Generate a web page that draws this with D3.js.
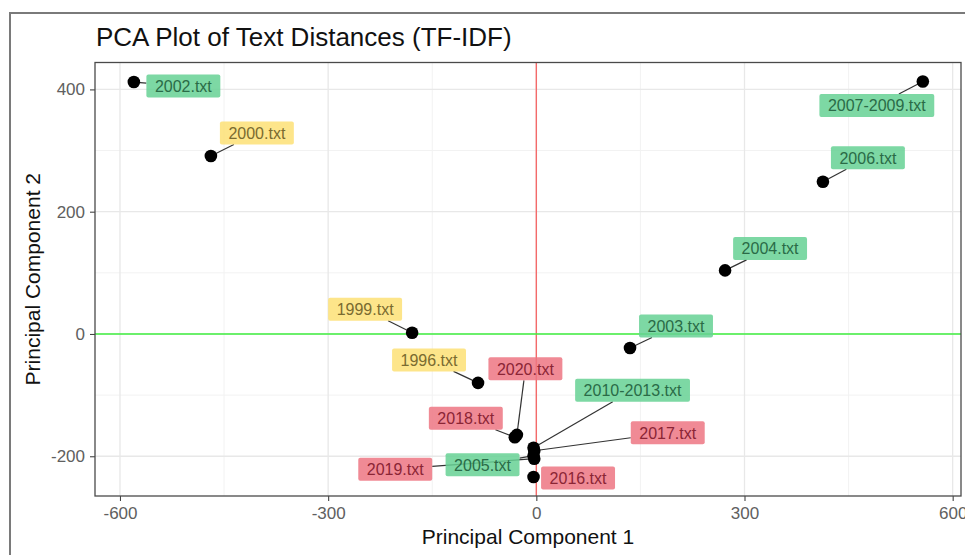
<!DOCTYPE html>
<html>
<head>
<meta charset="utf-8">
<script src="https://cdn.jsdelivr.net/npm/d3@7"></script>
<style>
  html, body { margin: 0; padding: 0; background: #fff; }
  svg { display: block; font-family: "Liberation Sans", Arial, sans-serif; }
</style>
</head>
<body>
<svg id="chart" width="965" height="555"></svg>
<script>
// ---- data ----
const files = ["1996.txt","1999.txt","2000.txt","2002.txt","2003.txt","2004.txt","2005.txt","2006.txt",
  "2007-2009.txt","2010-2013.txt","2016.txt","2017.txt","2018.txt","2019.txt","2020.txt"];
const pc1 = [-84, -179, -469, -580, 135, 272, -4, 413, 557, -4, -4, -3, -31, -3, -28];
const pc2 = [-80, 2, 291, 412, -23, 104, -199, 249, 413, -186, -234, -191, -169, -204, -165];
const groups = ["early","early","early","mid","mid","mid","mid","mid","mid","mid","late","late","late","late","late"];
const xTicks = [-600, -300, 0, 300, 600];
const yTicks = [-200, 0, 200, 400];
const xMinor = [-450, -150, 150, 450];
const yMinor = [-100, 100, 300];

// ---- layout (label offsets in px from point, repel result) ----
const labelOffsets = [[-49,-23],[-47,-23.5],[46,-23],[49.5,4],[46,-22],[45,-22],[-51,9],[45,-24],
  [-46,24],[99,-57.5],[44.5,1],[133.5,-18],[-49,-19],[-139,10.5],[8.5,-66]];

const fillCol = {early:"#fde075", mid:"#66d194", late:"#ed7583"};
const textCol = {early:"#7a6b30", mid:"#2a6b47", late:"#8b2535"};

const svg = d3.select("#chart");
const L = 95, R = 961, T = 62.5, B = 496;
const x = d3.scaleLinear().domain([-636, 612]).range([L, R]);
const y = d3.scaleLinear().domain([-265, 444]).range([B, T]);

// outer frame
svg.append("rect").attr("x",10).attr("y",13).attr("width",1000).attr("height",600)
  .attr("fill","none").attr("stroke","#7a7a7a").attr("stroke-width",2);

// title
svg.append("text").attr("x",96).attr("y",46).attr("font-size",26).attr("fill","#111")
  .text("PCA Plot of Text Distances (TF-IDF)");

const g = svg.append("g");
// minor grid
g.selectAll(".mx").data(xMinor).enter().append("line")
  .attr("x1",d=>x(d)).attr("x2",d=>x(d)).attr("y1",T).attr("y2",B)
  .attr("stroke","#f2f2f2").attr("stroke-width",1);
g.selectAll(".my").data(yMinor).enter().append("line")
  .attr("y1",d=>y(d)).attr("y2",d=>y(d)).attr("x1",L).attr("x2",R)
  .attr("stroke","#f2f2f2").attr("stroke-width",1);
// major grid
g.selectAll(".gx").data(xTicks).enter().append("line")
  .attr("x1",d=>x(d)).attr("x2",d=>x(d)).attr("y1",T).attr("y2",B)
  .attr("stroke","#e8e8e8").attr("stroke-width",1.3);
g.selectAll(".gy").data(yTicks).enter().append("line")
  .attr("y1",d=>y(d)).attr("y2",d=>y(d)).attr("x1",L).attr("x2",R)
  .attr("stroke","#e8e8e8").attr("stroke-width",1.3);

// reference lines
g.append("line").attr("x1",x(0)).attr("x2",x(0)).attr("y1",T).attr("y2",B)
  .attr("stroke","#f46a6a").attr("stroke-width",1.4);
g.append("line").attr("x1",L).attr("x2",R).attr("y1",y(0)).attr("y2",y(0))
  .attr("stroke","#3fef3f").attr("stroke-width",1.4);

// axes
const fmt = d => String(d);
const xAxis = svg.append("g").attr("transform",`translate(0,${B})`)
  .call(d3.axisBottom(x).tickValues(xTicks).tickSize(5).tickPadding(6).tickFormat(fmt));
const yAxis = svg.append("g").attr("transform",`translate(${L},0)`)
  .call(d3.axisLeft(y).tickValues(yTicks).tickSize(5).tickPadding(5).tickFormat(fmt));
[xAxis,yAxis].forEach(a=>{
  a.select(".domain").remove();
  a.selectAll(".tick line").attr("stroke","#444").attr("stroke-width",1.1);
  a.selectAll(".tick text").attr("fill","#606060").attr("font-size",17)
    .attr("font-family","'Liberation Sans', Arial, sans-serif");
});

// axis titles
svg.append("text").attr("x",(L+R)/2).attr("y",544).attr("text-anchor","middle")
  .attr("font-size",21).attr("fill","#111").text("Principal Component 1");
svg.append("text").attr("transform",`translate(40,${(T+B)/2}) rotate(-90)`).attr("text-anchor","middle")
  .attr("font-size",21).attr("fill","#111").text("Principal Component 2");

// build label geometry
const items = files.map((f,i)=>({name:f, px:x(pc1[i]), py:y(pc2[i]), grp:groups[i],
  cx:x(pc1[i])+labelOffsets[i][0], cy:y(pc2[i])+labelOffsets[i][1]}));

const meas = svg.append("text").attr("font-size",16).attr("visibility","hidden");
items.forEach(d=>{
  meas.text(d.name);
  const w = meas.node().getComputedTextLength();
  d.w = w + 17; d.h = 23;
  d.x0 = d.cx - d.w/2; d.y0 = d.cy - d.h/2;
  const dx = d.px - d.cx, dy = d.py - d.cy;
  const tx = dx !== 0 ? (d.w/2)/Math.abs(dx) : Infinity;
  const ty = dy !== 0 ? (d.h/2)/Math.abs(dy) : Infinity;
  const t = Math.min(tx, ty, 1);
  d.ex = d.cx + dx*t; d.ey = d.cy + dy*t;
  d.seg = Math.hypot(d.px-d.ex, d.py-d.ey) > 12;
});
meas.remove();

// segments
g.selectAll(".seg").data(items.filter(d=>d.seg)).enter().append("line")
  .attr("x1",d=>d.ex).attr("y1",d=>d.ey).attr("x2",d=>d.px).attr("y2",d=>d.py)
  .attr("stroke","#333").attr("stroke-width",1.2);

// points
g.selectAll(".pt").data(items).enter().append("circle")
  .attr("cx",d=>d.px).attr("cy",d=>d.py).attr("r",6.3).attr("fill","#000");

// labels
const lab = g.selectAll(".lab").data(items).enter().append("g");
lab.append("rect").attr("x",d=>d.x0).attr("y",d=>d.y0).attr("width",d=>d.w).attr("height",d=>d.h)
  .attr("rx",2).attr("fill",d=>fillCol[d.grp]).attr("fill-opacity",0.85);
lab.append("text").attr("x",d=>d.cx).attr("y",d=>d.cy+6).attr("text-anchor","middle")
  .attr("font-size",16).attr("fill",d=>textCol[d.grp]).text(d=>d.name);

// panel border
svg.append("rect").attr("x",L).attr("y",T).attr("width",R-L).attr("height",B-T)
  .attr("fill","none").attr("stroke","#4a4a4a").attr("stroke-width",1.3);
</script>
</body>
</html>
